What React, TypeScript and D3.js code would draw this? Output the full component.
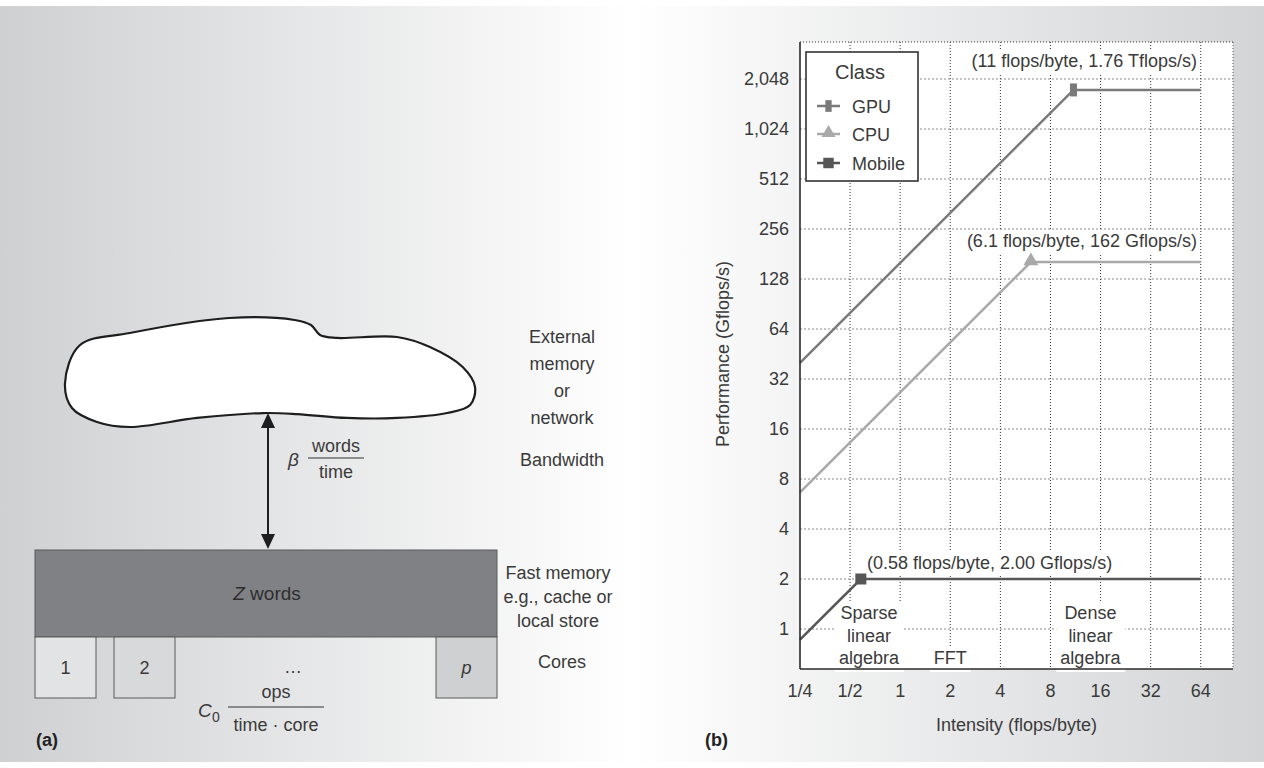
import React, { useEffect, useRef } from "react";
import * as d3 from "d3";

// ---------- data ----------
const intensityTicks = [0.25, 0.5, 1, 2, 4, 8, 16, 32, 64];
const intensityLabels = ["1/4", "1/2", "1", "2", "4", "8", "16", "32", "64"];
const perfTicks = [1, 2, 4, 8, 16, 32, 64, 128, 256, 512, 1024, 2048];
const perfLabels = ["1", "2", "4", "8", "16", "32", "64", "128", "256", "512", "1,024", "2,048"];
const classNames = ["GPU", "CPU", "Mobile"];
const ridgeIntensity = [11, 6.1, 0.58];
const peakPerf = [1760, 162, 2.0];
const classColors = ["#7a7a7a", "#a9a9a9", "#565656"];
const classSymbols = ["bar", "triangle", "square"];
const annotationTexts = [
  "(11 flops/byte, 1.76 Tflops/s)",
  "(6.1 flops/byte, 162 Gflops/s)",
  "(0.58 flops/byte, 2.00 Gflops/s)",
];
const lineStartIntensity = 0.25;
const lineEndIntensity = 64;
const kernelNames = [["Sparse", "linear", "algebra"], ["FFT"], ["Dense", "linear", "algebra"]];
const kernelIntensity = [0.65, 2, 13.9];
const kernelRow = [0, 2, 0];

// diagram shape (unit coords)
const cloudShape: [number, number][] = [
  [0, 0.6], [0.036, 0.25], [0.158, 0.138], [0.4, 0], [0.56, 0.018], [0.6, 0.064],
  [0.622, 0.156], [0.663, 0.183], [0.81, 0.174], [0.89, 0.266], [0.97, 0.45],
  [1, 0.633], [0.988, 0.798], [0.932, 0.872], [0.81, 0.917], [0.688, 0.917],
  [0.566, 0.881], [0.483, 0.872], [0.322, 0.917], [0.158, 1], [0.078, 0.954], [0.017, 0.826],
];
const coreLabels = ["1", "2", "p"];
const coreFills = ["#e2e3e4", "#d8d9da", "#cfd0d1"];
const externalLines = ["External", "memory", "or", "network"];
const fastLines = ["Fast memory", "e.g., cache or", "local store"];

const FONT = "'Liberation Sans', Arial, Helvetica, sans-serif";
const TXT = "#3a3a3a";

export default function App() {
  const ref = useRef<SVGSVGElement>(null);

  useEffect(() => {
    const svg = d3.select(ref.current);
    svg.selectAll("*").remove();
    const W = 1264, H = 768;

    const defs = svg.append("defs");
    const grad = defs.append("linearGradient").attr("id", "bg").attr("x1", 0).attr("x2", 1).attr("y1", 0).attr("y2", 0);
    grad.append("stop").attr("offset", 0).attr("stop-color", "#cfd0d2");
    grad.append("stop").attr("offset", 0.5).attr("stop-color", "#ffffff");
    grad.append("stop").attr("offset", 1).attr("stop-color", "#d3d4d6");

    svg.append("rect").attr("width", W).attr("height", H).attr("fill", "#fff");
    svg.append("rect").attr("x", 0).attr("y", 6).attr("width", W).attr("height", H - 12).attr("fill", "url(#bg)");

    // ---------------- left diagram ----------------
    const L = svg.append("g").attr("font-family", FONT).attr("fill", TXT);
    const cx = d3.scaleLinear().domain([0, 1]).range([65, 475]);
    const cy = d3.scaleLinear().domain([0, 1]).range([318, 427]);
    const cloud = d3.line<[number, number]>().x((d) => cx(d[0])).y((d) => cy(d[1])).curve(d3.curveCatmullRomClosed.alpha(0.5));
    L.append("path").attr("d", cloud(cloudShape)).attr("fill", "#fff").attr("stroke", "#1e1e1e").attr("stroke-width", 2.2);

    // arrow
    const ax = 268, ay1 = 413, ay2 = 549;
    L.append("line").attr("x1", ax).attr("x2", ax).attr("y1", ay1 + 12).attr("y2", ay2 - 12).attr("stroke", "#1e1e1e").attr("stroke-width", 2);
    L.append("path").attr("d", `M${ax},${ay1} L${ax - 7},${ay1 + 15} L${ax + 7},${ay1 + 15} Z`).attr("fill", "#1e1e1e");
    L.append("path").attr("d", `M${ax},${ay2} L${ax - 7},${ay2 - 15} L${ax + 7},${ay2 - 15} Z`).attr("fill", "#1e1e1e");

    // beta fraction
    L.append("text").attr("x", 288).attr("y", 466).attr("font-size", 19).attr("font-style", "italic").text("β");
    L.append("text").attr("x", 336).attr("y", 452).attr("font-size", 18).attr("text-anchor", "middle").text("words");
    L.append("line").attr("x1", 308).attr("x2", 364).attr("y1", 458).attr("y2", 458).attr("stroke", "#333").attr("stroke-width", 1.2);
    L.append("text").attr("x", 336).attr("y", 478).attr("font-size", 18).attr("text-anchor", "middle").text("time");

    // fast memory box
    L.append("rect").attr("x", 35).attr("y", 550).attr("width", 462).attr("height", 87).attr("fill", "#808184").attr("stroke", "#5a5a5a").attr("stroke-width", 1);
    const zt = L.append("text").attr("x", 267).attr("y", 600).attr("font-size", 19).attr("text-anchor", "middle").attr("fill", "#2e2e2e");
    zt.append("tspan").attr("font-style", "italic").text("Z");
    zt.append("tspan").text(" words");

    // cores
    const coreX = [35, 114, 436];
    coreX.forEach((x, i) => {
      L.append("rect").attr("x", x).attr("y", 637).attr("width", 61).attr("height", 61).attr("fill", coreFills[i]).attr("stroke", "#5a5a5a").attr("stroke-width", 1);
      L.append("text").attr("x", x + 30.5).attr("y", 674).attr("font-size", 18).attr("text-anchor", "middle")
        .attr("font-style", i === 2 ? "italic" : "normal").text(coreLabels[i]);
    });
    L.append("text").attr("x", 293).attr("y", 673).attr("font-size", 18).attr("text-anchor", "middle").text("…");

    // C0 fraction
    L.append("text").attr("x", 198).attr("y", 717).attr("font-size", 19).attr("font-style", "italic").text("C");
    L.append("text").attr("x", 212).attr("y", 722).attr("font-size", 14).text("0");
    L.append("text").attr("x", 276).attr("y", 698).attr("font-size", 18).attr("text-anchor", "middle").text("ops");
    L.append("line").attr("x1", 228).attr("x2", 324).attr("y1", 707).attr("y2", 707).attr("stroke", "#333").attr("stroke-width", 1.2);
    L.append("text").attr("x", 276).attr("y", 731).attr("font-size", 18).attr("text-anchor", "middle").text("time · core");

    // right-hand labels
    const labX = 562;
    externalLines.forEach((s, i) => {
      L.append("text").attr("x", labX).attr("y", 343 + i * 27).attr("font-size", 18).attr("text-anchor", "middle").text(s);
    });
    L.append("text").attr("x", labX).attr("y", 466).attr("font-size", 18).attr("text-anchor", "middle").text("Bandwidth");
    fastLines.forEach((s, i) => {
      L.append("text").attr("x", labX - 4).attr("y", 579 + i * 24).attr("font-size", 18).attr("text-anchor", "middle").text(s);
    });
    L.append("text").attr("x", labX).attr("y", 668).attr("font-size", 18).attr("text-anchor", "middle").text("Cores");

    L.append("text").attr("x", 36).attr("y", 746).attr("font-size", 18).attr("font-weight", "bold").attr("fill", "#222").text("(a)");

    // ---------------- right chart ----------------
    const x0 = 800, x1 = 1233, yTop = 42, yBot = 669;
    const x = d3.scaleLog().base(2).domain([0.25, 100]).range([x0, x1]);
    const y = d3.scaleLog().base(2).domain([Math.pow(2, -0.8), Math.pow(2, 11.74)]).range([yBot, yTop]);

    const P = svg.append("g").attr("font-family", FONT);
    P.append("rect").attr("x", x0).attr("y", yTop).attr("width", x1 - x0).attr("height", yBot - yTop).attr("fill", "#fff");

    // horizontal grid
    P.selectAll(".hg").data(perfTicks).enter().append("line")
      .attr("x1", x0).attr("x2", x1).attr("y1", (d) => y(d)).attr("y2", (d) => y(d))
      .attr("stroke", "#8a8a8a").attr("stroke-width", 1).attr("stroke-dasharray", "2,2");
    // vertical grid
    P.selectAll(".vg").data(intensityTicks.slice(1)).enter().append("line")
      .attr("x1", (d) => x(d)).attr("x2", (d) => x(d)).attr("y1", yTop).attr("y2", yBot)
      .attr("stroke", "#333").attr("stroke-width", 1).attr("stroke-dasharray", "1,2");
    // top & right dotted border
    P.append("line").attr("x1", x0).attr("x2", x1).attr("y1", yTop).attr("y2", yTop).attr("stroke", "#333").attr("stroke-dasharray", "1,2");
    P.append("line").attr("x1", x1).attr("x2", x1).attr("y1", yTop).attr("y2", yBot).attr("stroke", "#555").attr("stroke-dasharray", "1,2");

    // text with white background (drawn under the lines)
    const bgText = (lines: string[], tx: number, ty: number, anchor: string, size: number, lh: number, pad: number) => {
      const g = P.append("g");
      const t = g.append("text").attr("font-size", size).attr("fill", TXT).attr("text-anchor", anchor);
      lines.forEach((s, k) => t.append("tspan").attr("x", tx).attr("y", ty + k * lh).text(s));
      const bb = (g.node() as SVGGElement).getBBox();
      g.insert("rect", "text").attr("x", bb.x - pad).attr("y", bb.y - pad + 2).attr("width", bb.width + 2 * pad).attr("height", bb.height + 2 * pad - 2).attr("fill", "#fff");
    };
    bgText([annotationTexts[0]], 1197, 67, "end", 18, 0, 3);
    bgText([annotationTexts[1]], 1197, 247, "end", 18, 0, 3);
    bgText([annotationTexts[2]], 867, 569, "start", 18, 0, 3);
    kernelNames.forEach((lines, i) => {
      bgText(lines, x(kernelIntensity[i]), 619 + kernelRow[i] * 22.5, "middle", 18, 22.5, 4);
    });

    // roofline lines
    classNames.forEach((c, i) => {
      const bw = peakPerf[i] / ridgeIntensity[i];
      const pts: [number, number][] = [
        [lineStartIntensity, bw * lineStartIntensity],
        [ridgeIntensity[i], peakPerf[i]],
        [lineEndIntensity, peakPerf[i]],
      ];
      const ln = d3.line<[number, number]>().x((d) => x(d[0])).y((d) => y(d[1]));
      P.append("path").attr("d", ln(pts)).attr("fill", "none").attr("stroke", classColors[i]).attr("stroke-width", 2.5);
    });

    const drawMarker = (g: any, kind: string, mx: number, my: number, color: string, s: number) => {
      if (kind === "bar") {
        g.append("rect").attr("x", mx - 3.5 * s).attr("y", my - 6.5 * s).attr("width", 7 * s).attr("height", 13 * s).attr("fill", color);
      } else if (kind === "triangle") {
        g.append("path").attr("d", d3.symbol().type(d3.symbolTriangle).size(95 * s * s)()).attr("transform", `translate(${mx},${my - 1})`).attr("fill", color);
      } else {
        g.append("rect").attr("x", mx - 5.5 * s).attr("y", my - 5.5 * s).attr("width", 11 * s).attr("height", 11 * s).attr("fill", color);
      }
    };
    classNames.forEach((c, i) => {
      drawMarker(P, classSymbols[i], x(ridgeIntensity[i]), y(peakPerf[i]), classColors[i], 1);
    });

    // axes
    P.append("line").attr("x1", x0).attr("x2", x0).attr("y1", yTop).attr("y2", yBot).attr("stroke", "#2a2a2a").attr("stroke-width", 1.6);
    P.append("line").attr("x1", x0).attr("x2", x1).attr("y1", yBot).attr("y2", yBot).attr("stroke", "#2a2a2a").attr("stroke-width", 1.6);

    P.selectAll(".yl").data(perfTicks).enter().append("text")
      .attr("x", 789).attr("y", (d) => y(d) + 6).attr("text-anchor", "end").attr("font-size", 18).attr("fill", TXT)
      .text((d, i) => perfLabels[i]);
    P.selectAll(".xl").data(intensityTicks).enter().append("text")
      .attr("x", (d) => x(d)).attr("y", 697).attr("text-anchor", "middle").attr("font-size", 18).attr("fill", TXT)
      .text((d, i) => intensityLabels[i]);

    P.append("text").attr("x", (x0 + x1) / 2).attr("y", 731).attr("text-anchor", "middle").attr("font-size", 18).attr("fill", TXT).text("Intensity (flops/byte)");
    P.append("text").attr("transform", `translate(729,${(y(1) + y(2048)) / 2}) rotate(-90)`).attr("text-anchor", "middle").attr("font-size", 18).attr("fill", TXT).text("Performance (Gflops/s)");
    P.append("text").attr("x", 705).attr("y", 746).attr("font-size", 18).attr("font-weight", "bold").attr("fill", "#222").text("(b)");

    // legend
    const lg = P.append("g");
    lg.append("rect").attr("x", 806).attr("y", 52).attr("width", 112).attr("height", 129).attr("fill", "#fff").attr("stroke", "#333").attr("stroke-width", 1.6);
    lg.append("text").attr("x", 860).attr("y", 79).attr("text-anchor", "middle").attr("font-size", 20).attr("fill", TXT).text("Class");
    const rowY = [106, 134, 163];
    classNames.forEach((c, i) => {
      lg.append("line").attr("x1", 817).attr("x2", 840).attr("y1", rowY[i]).attr("y2", rowY[i]).attr("stroke", classColors[i]).attr("stroke-width", 2.5);
      drawMarker(lg, classSymbols[i], 828.5, rowY[i], classColors[i], classSymbols[i] === "bar" ? 0.9 : 0.95);
      lg.append("text").attr("x", 852).attr("y", rowY[i] + 6.5).attr("font-size", 18).attr("fill", TXT).text(c);
    });
  }, []);

  return (
    <svg ref={ref} width={1264} height={768} style={{ position: "absolute", left: 0, top: 0, display: "block" }} />
  );
}
